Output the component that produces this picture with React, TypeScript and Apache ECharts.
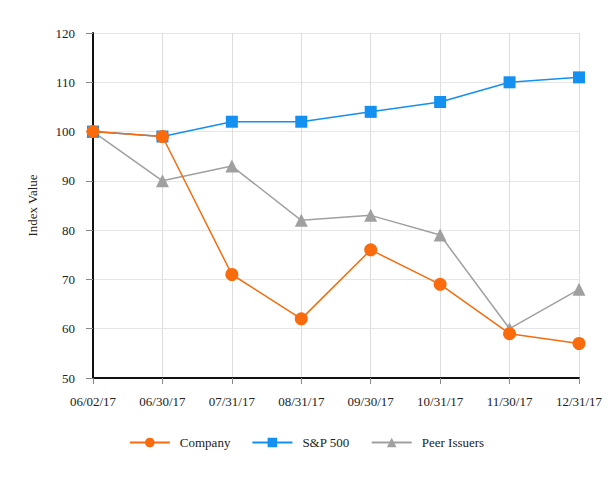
import React, { useEffect, useRef } from "react";
import * as echarts from "echarts";

const categories = ["06/02/17", "06/30/17", "07/31/17", "08/31/17", "09/30/17", "10/31/17", "11/30/17", "12/31/17"];
const company = [100, 99, 71, 62, 76, 69, 59, 57];
const sp500 = [100, 99, 102, 102, 104, 106, 110, 111];
const peers = [100, 90, 93, 82, 83, 79, 60, 68];

const FONT = "'Liberation Serif', 'Times New Roman', serif";

export default function App() {
  const ref = useRef<HTMLDivElement>(null);
  useEffect(() => {
    if (!ref.current) return;
    const chart = echarts.init(ref.current, undefined, { renderer: "svg" });
    chart.setOption({
      animation: false,
      textStyle: { fontFamily: FONT },
      grid: { left: 93, right: 34, top: 33, bottom: 102 },
      legend: {
        bottom: 26,
        left: "center",
        itemWidth: 40,
        itemHeight: 12,
        itemGap: 21,
        textStyle: { fontFamily: FONT, fontSize: 13, color: "#222", padding: [0, 0, 0, 5] },
        data: ["Company", "S&P 500", "Peer Issuers"],
      },
      xAxis: {
        type: "category",
        data: categories,
        boundaryGap: false,
        axisLine: { lineStyle: { color: "#111", width: 2 } },
        axisTick: { show: true, length: 6, lineStyle: { color: "#888" } },
        axisLabel: { fontFamily: FONT, fontSize: 13, color: "#222", margin: 17, interval: 0 },
        splitLine: { show: true, lineStyle: { color: "#ddd" } },
      },
      yAxis: {
        type: "value",
        min: 50,
        max: 120,
        interval: 10,
        name: "Index Value",
        nameLocation: "middle",
        nameGap: 54,
        nameTextStyle: { fontFamily: FONT, fontSize: 13, color: "#222" },
        axisLine: { show: true, lineStyle: { color: "#111", width: 2 } },
        axisTick: { show: true, length: 7, lineStyle: { color: "#888" } },
        axisLabel: { fontFamily: FONT, fontSize: 13, color: "#222", margin: 18 },
        splitLine: { show: true, lineStyle: { color: "#e6e6e6" } },
      },
      series: [
        {
          name: "Peer Issuers",
          type: "line",
          data: peers,
          symbol: "triangle",
          symbolSize: 13,
          itemStyle: { color: "#a0a0a0" },
          lineStyle: { color: "#a0a0a0", width: 1.5 },
          z: 2,
        },
        {
          name: "S&P 500",
          type: "line",
          data: sp500,
          symbol: "rect",
          symbolSize: 12,
          itemStyle: { color: "#1390f0" },
          lineStyle: { color: "#1390f0", width: 1.5 },
          z: 3,
        },
        {
          name: "Company",
          type: "line",
          data: company,
          symbol: "circle",
          symbolSize: 13,
          itemStyle: { color: "#f96b0c" },
          lineStyle: { color: "#f96b0c", width: 1.5 },
          z: 4,
        },
      ],
    });
    return () => chart.dispose();
  }, []);
  return <div ref={ref} style={{ width: 613, height: 480, position: "absolute", left: 0, top: 0 }} />;
}
